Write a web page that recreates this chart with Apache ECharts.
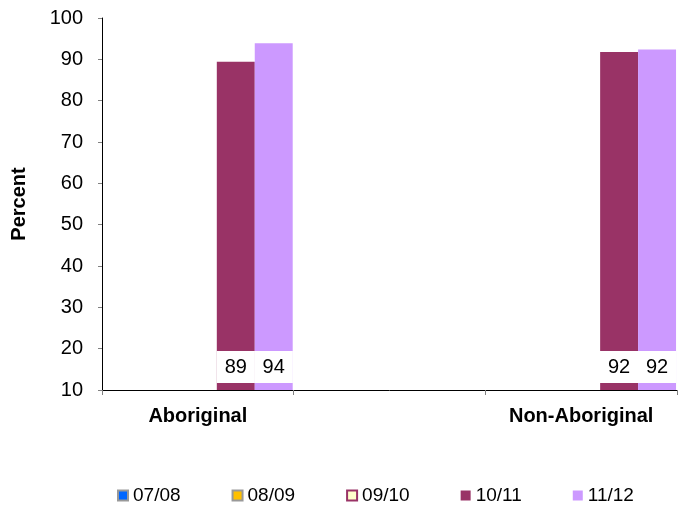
<!DOCTYPE html>
<html>
<head>
<meta charset="utf-8">
<script src="https://cdn.jsdelivr.net/npm/echarts@6/dist/echarts.min.js"></script>
<style>
  html, body { margin: 0; padding: 0; background: #fff; }
  #chart { width: 683px; height: 506px; }
</style>
</head>
<body>
<div id="chart"></div>
<script>
// categories (middle slot is an empty gap in the original chart)
var categories = ['Aboriginal', '', 'Non-Aboriginal']
var seriesNames = ['07/08', '08/09', '09/10', '10/11', '11/12']

var values0708 = [null, null, null]
var values0809 = [null, null, null]
var values0910 = [null, null, null]
var values1011 = [89.4, null, 91.8]
var values1112 = [93.9, null, 92.4]

var fillColors = ['#0066ff', '#ffc000', '#ffffcc', '#993366', '#cc99ff']
var borderColors = ['#999999', '#999999', '#993366', null, null]
var allValues = [values0708, values0809, values0910, values1011, values1112]

var font = 'Liberation Sans, Arial, sans-serif'

var chart = echarts.init(document.getElementById('chart'))

var series = seriesNames.map(function(name, i) {
  var style = { color: fillColors[i] }
  if (borderColors[i]) {
    style.borderColor = borderColors[i]
    style.borderWidth = 2
  }
  return {
    name: name,
    type: 'bar',
    data: allValues[i],
    barGap: '0%',
    barCategoryGap: '1%',
    itemStyle: style,
    label: {
      show: true,
      position: 'insideBottom',
      distance: 7,
      color: '#000',
      fontFamily: font,
      fontSize: 20,
      backgroundColor: '#fff',
      padding: [6, 8],
      formatter: function(p) {
        return Math.round(p.value)
      }
    }
  }
})

chart.setOption({
  animation: false,
  textStyle: { fontFamily: font },
  grid: {
    left: 102,
    right: 6,
    top: 18,
    bottom: 116,
    containLabel: false,
    outerBoundsMode: 'none'
  },
  legend: {
    top: 481,
    left: 112,
    icon: 'rect',
    itemWidth: 10,
    itemHeight: 10,
    itemGap: 51,
    textStyle: { fontSize: 19, color: '#000', fontFamily: font },
    data: seriesNames
  },
  xAxis: {
    type: 'category',
    data: categories,
    axisLine: { lineStyle: { color: '#000', width: 1 } },
    axisTick: { show: true, length: 5, lineStyle: { color: '#808080' } },
    axisLabel: {
      margin: 16,
      color: '#000',
      fontSize: 20,
      fontWeight: 'bold',
      fontFamily: font
    }
  },
  yAxis: {
    type: 'value',
    min: 10,
    max: 100,
    interval: 10,
    name: 'Percent',
    nameLocation: 'middle',
    nameGap: 73,
    nameRotate: 90,
    nameTextStyle: { fontSize: 20, fontWeight: 'bold', color: '#000', fontFamily: font },
    axisLine: { show: true, lineStyle: { color: '#000', width: 1 } },
    axisTick: { show: true, length: 4, lineStyle: { color: '#808080' } },
    splitLine: { show: false },
    axisLabel: {
      margin: 19,
      color: '#000',
      fontSize: 20,
      fontFamily: font
    }
  },
  series: series
})
</script>
</body>
</html>
